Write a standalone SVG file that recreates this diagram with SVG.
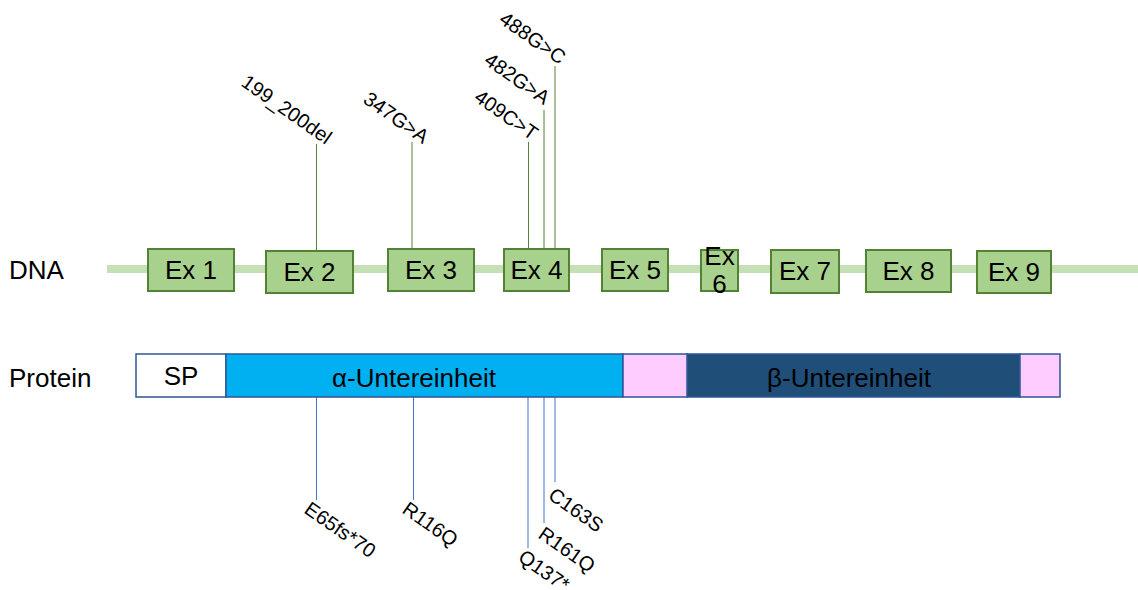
<svg xmlns="http://www.w3.org/2000/svg" width="1138" height="590" viewBox="0 0 1138 590">
<style>
text{font-family:"Liberation Sans",Arial,sans-serif;fill:#000}
.big{font-size:26px}
.mut{font-size:20px}
.exon{fill:#a9d18e;stroke:#548235;stroke-width:2}
.pbox{stroke:#2f5597;stroke-width:1.5}
.dl{stroke:#548235;stroke-width:1}
.pl{stroke:#4472c4;stroke-width:1}
</style>
<rect width="1138" height="590" fill="#fff"/>
<g id="labels">
<text class="big" x="9" y="279">DNA</text>
<text class="big" x="9" y="387">Protein</text>
</g>
<line id="dna-backbone" x1="107" y1="269" x2="1138" y2="269" stroke="#c5e0b4" stroke-width="8"/>
<g id="connectors">
<line class="dl" x1="316.5" y1="144" x2="316.5" y2="251"/>
<line class="dl" x1="412" y1="142" x2="412" y2="249"/>
<line class="dl" x1="528.5" y1="142" x2="528.5" y2="249"/>
<line class="dl" x1="544" y1="110" x2="544" y2="249"/>
<line class="dl" x1="555" y1="66" x2="555" y2="249"/>
<line class="pl" x1="316.5" y1="397" x2="316.5" y2="500"/>
<line class="pl" x1="413.5" y1="397" x2="413.5" y2="500"/>
<line class="pl" x1="528" y1="397" x2="528" y2="548"/>
<line class="pl" x1="544" y1="397" x2="544" y2="523"/>
<line class="pl" x1="555" y1="397" x2="555" y2="482"/>
</g>
<g id="ex1"><rect class="exon" x="148" y="249" width="86" height="42"/><text class="big" x="191" y="279" text-anchor="middle">Ex 1</text></g>
<g id="ex2"><rect class="exon" x="266" y="251" width="87" height="42"/><text class="big" x="309.5" y="281" text-anchor="middle">Ex 2</text></g>
<g id="ex3"><rect class="exon" x="388" y="249" width="86" height="42"/><text class="big" x="431" y="279" text-anchor="middle">Ex 3</text></g>
<g id="ex4"><rect class="exon" x="504" y="249" width="65" height="42"/><text class="big" x="536.5" y="279" text-anchor="middle">Ex 4</text></g>
<g id="ex5"><rect class="exon" x="602" y="249" width="66" height="42"/><text class="big" x="635" y="279" text-anchor="middle">Ex 5</text></g>
<g id="ex6"><rect class="exon" x="701" y="250" width="37" height="41"/><text class="big" x="719.5" y="265" text-anchor="middle">Ex</text><text class="big" x="719.5" y="293" text-anchor="middle">6</text></g>
<g id="ex7"><rect class="exon" x="771" y="250" width="68" height="43"/><text class="big" x="805" y="280" text-anchor="middle">Ex 7</text></g>
<g id="ex8"><rect class="exon" x="866" y="250" width="85" height="42"/><text class="big" x="908.5" y="280" text-anchor="middle">Ex 8</text></g>
<g id="ex9"><rect class="exon" x="977" y="251" width="74" height="42"/><text class="big" x="1014" y="281" text-anchor="middle">Ex 9</text></g>
<g id="protein">
<rect id="sp" class="pbox" x="136" y="354" width="90" height="43" fill="#fff"/>
<rect id="alpha" class="pbox" x="226" y="354" width="397" height="43" fill="#00b0f0"/>
<rect id="beta" class="pbox" x="687" y="354" width="333" height="43" fill="#1f4e79"/>
<rect id="pink1" class="pbox" x="623" y="354" width="64" height="43" fill="#ffccff"/>
<rect id="pink2" class="pbox" x="1020" y="354" width="40" height="43" fill="#ffccff"/>
<text class="big" x="181" y="385" text-anchor="middle">SP</text>
<text class="big" x="414" y="387" text-anchor="middle">α-Untereinheit</text>
<text class="big" x="849" y="387" text-anchor="middle">β-Untereinheit</text>
</g>
<g id="dna-mutations">
<text class="mut" transform="translate(240,85) rotate(35)">199_200del</text>
<text class="mut" transform="translate(362,102) rotate(35)">347G&gt;A</text>
<text class="mut" transform="translate(473,100) rotate(35)">409C&gt;T</text>
<text class="mut" transform="translate(483,63) rotate(35)">482G&gt;A</text>
<text class="mut" transform="translate(498,22) rotate(35)">488G&gt;C</text>
</g>
<g id="protein-mutations">
<text class="mut" transform="translate(303,512) rotate(35)">E65fs*70</text>
<text class="mut" transform="translate(401,512) rotate(35)">R116Q</text>
<text class="mut" transform="translate(517,560) rotate(35)">Q137*</text>
<text class="mut" transform="translate(537,537) rotate(35)">R161Q</text>
<text class="mut" transform="translate(547,498) rotate(35)">C163S</text>
</g>
</svg>
